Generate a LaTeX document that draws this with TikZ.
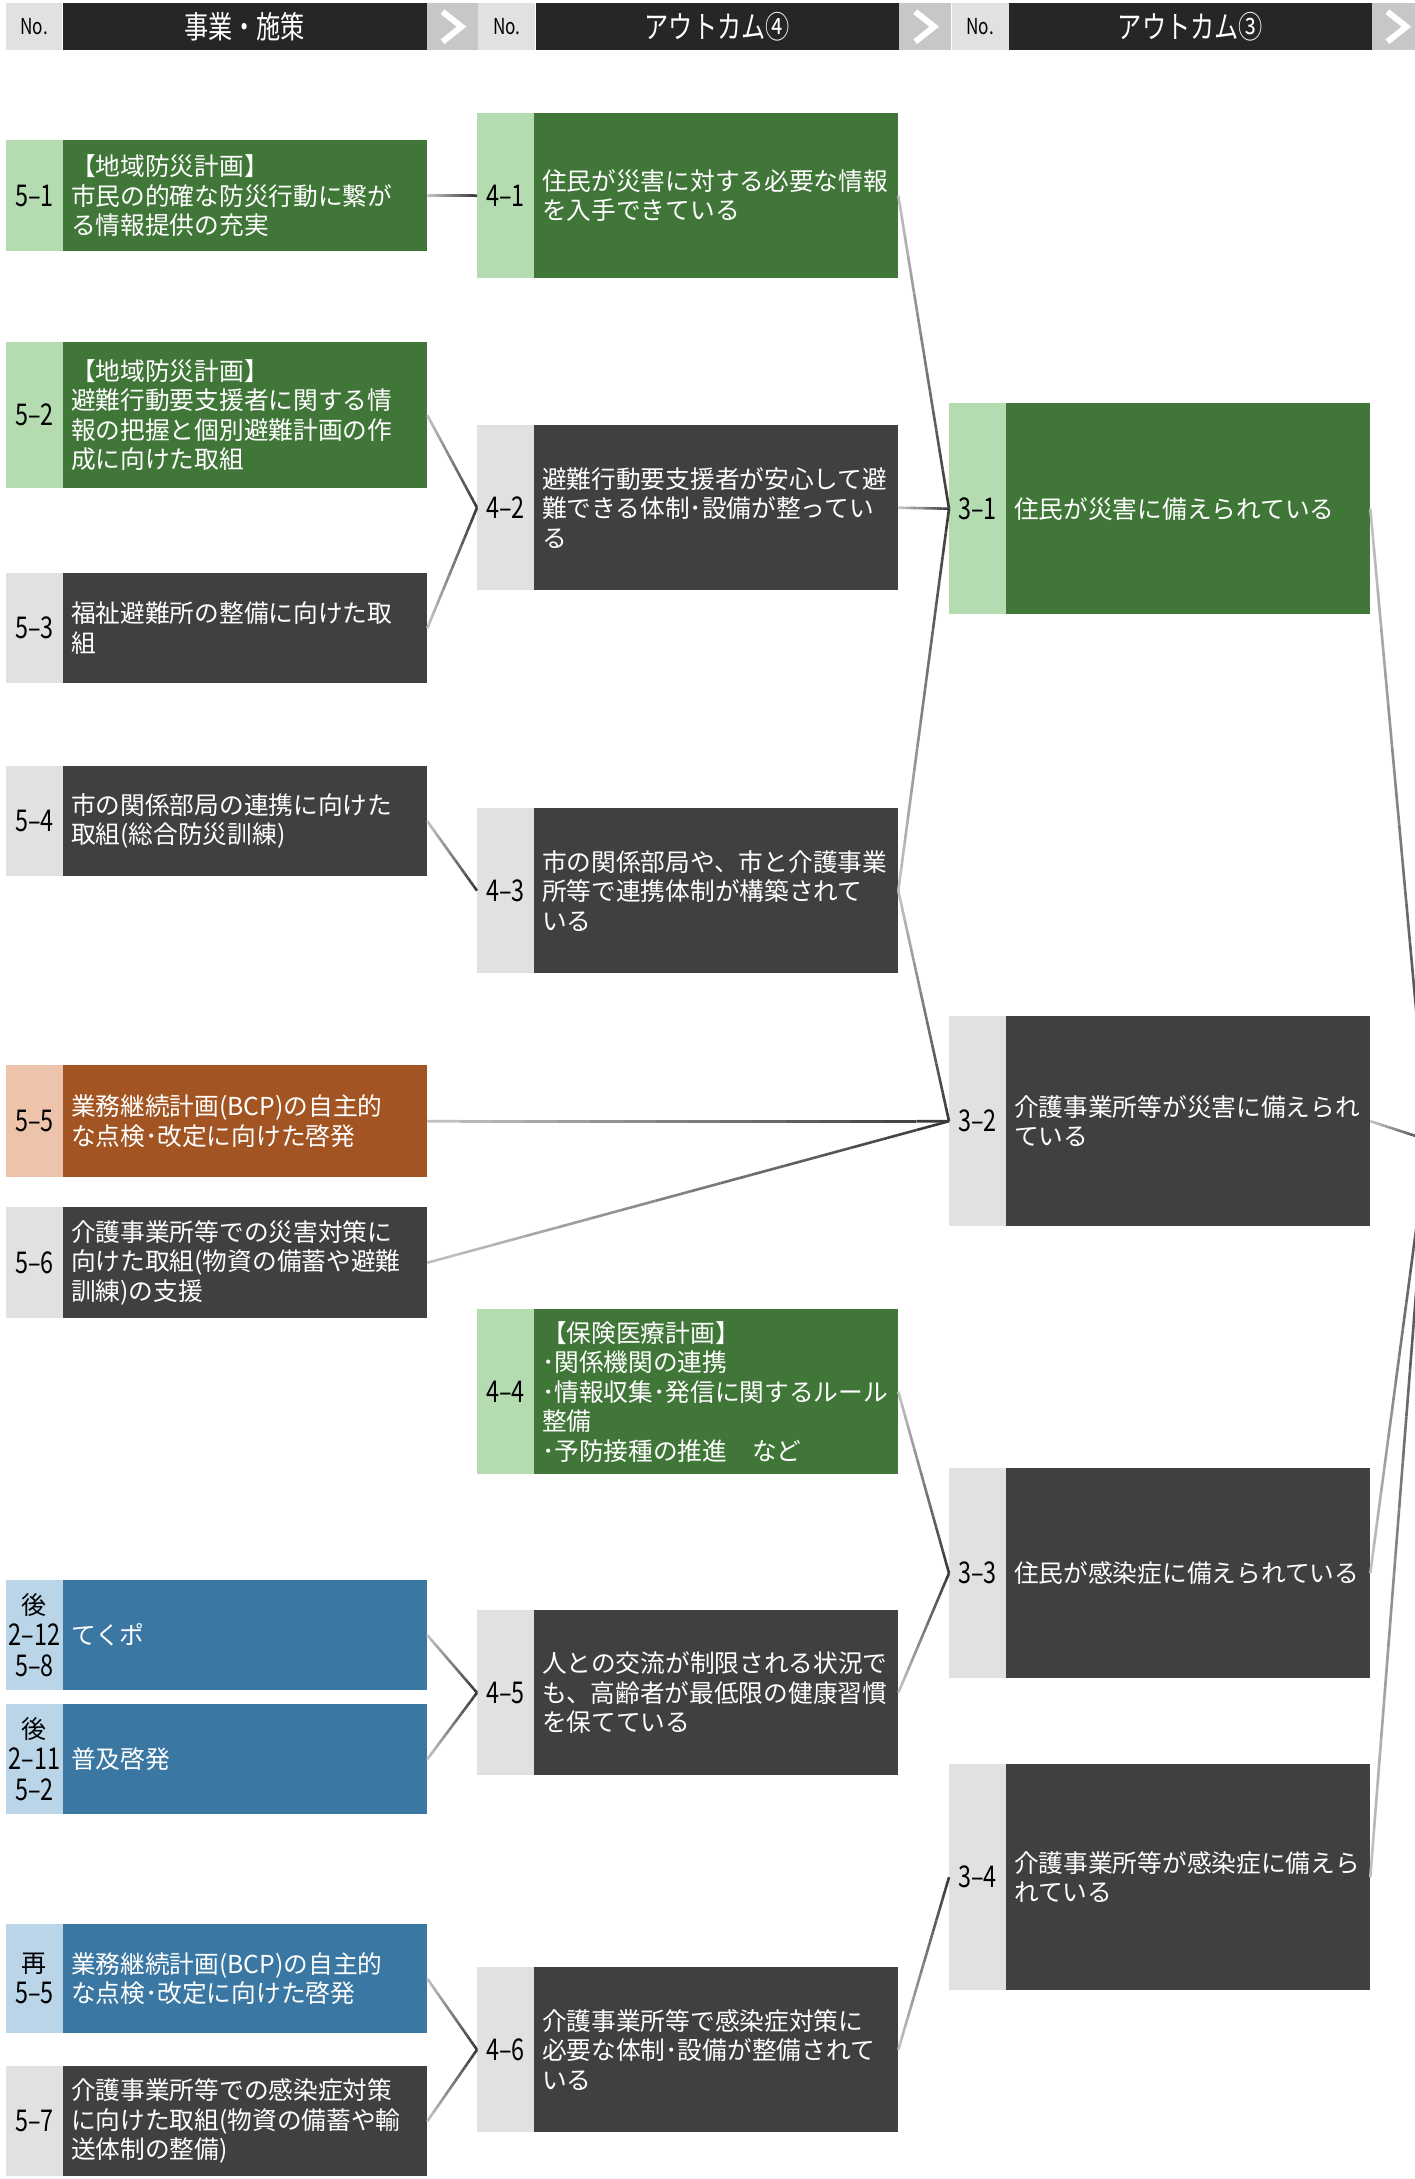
\documentclass[tikz,border=0pt]{standalone}
\usepackage{fontspec}
\setmainfont{Noto Sans CJK JP}
\newfontfamily\numfont[FakeStretch=0.78]{Noto Sans CJK JP}
\usetikzlibrary{calc}
\definecolor{dkgreen}{HTML}{417639}
\definecolor{ltgreen}{HTML}{B5DBB0}
\definecolor{dkgray}{HTML}{404040}
\definecolor{ltgray}{HTML}{E1E1E1}
\definecolor{brown}{HTML}{A25522}
\definecolor{peach}{HTML}{EDC4AB}
\definecolor{blue}{HTML}{3A77A2}
\definecolor{ltblue}{HTML}{BBD5E8}
\definecolor{hdrdark}{HTML}{262626}
\definecolor{chevbg}{HTML}{C7C7C7}
\newcommand\gconn[2]{%
  \foreach \k in {0,...,15}{%
    \pgfmathsetmacro\ga{\k/16}%
    \pgfmathsetmacro\gb{(\k+1)/16}%
    \pgfmathtruncatemacro\gc{25+52*\k/15}%
    \draw[conn, draw=black!\gc] ($(#1)!\ga!(#2)$) -- ($(#1)!\gb!(#2)$);
  }%
}
% name, x, y, height, numcolor, textcolor, numtext, text
\newcommand\boxpair[8]{%
  \node[numcell, fill=#5, minimum height=#4] (n#1) at (#2,#3) {#7};
  \node[txtcell, fill=#6, minimum height=#4] (t#1) at (n#1.north east) {#8};
}
\begin{document}
\begin{tikzpicture}[x=1pt,y=-1pt,
  numcell/.style={inner sep=0pt, minimum width=56.5pt, anchor=north west, align=center, text=black,
    font=\numfont\fontsize{30}{31}\selectfont},
  txtcell/.style={inner xsep=8pt, inner ysep=0pt, text width=348pt, anchor=north west, align=left,
    text=white, font=\fontsize{24.7}{29.5}\selectfont},
  hno/.style={fill=ltgray, inner sep=0pt, minimum height=47pt, anchor=north west, text=black,
    font=\numfont\fontsize{22}{22}\selectfont},
  hbar/.style={fill=hdrdark, inner sep=0pt, minimum height=47pt, anchor=north west, text=white,
    font=\numfont\fontsize{31}{31}\selectfont},
  hchev/.style={fill=chevbg, inner sep=0pt, minimum height=47pt, anchor=north west},
  chev/.style={draw=white, line width=6pt, miter limit=10},
  conn/.style={line width=2.6pt}
]
\useasboundingbox (0,0) rectangle (1415,2179);
\clip (0,0) rectangle (1415,2179);
\fill[white] (0,0) rectangle (1415,2179);

% header
\node[hno, minimum width=56pt] (hn1) at (6,3) {No.};
\node[hbar, minimum width=364pt] (hb1) at (hn1.north east) {事業・施策};
\node[hchev, minimum width=51pt] (hc1) at (hb1.north east) {};
\node[hno, minimum width=57pt] (hn2) at (hc1.north east) {No.};
\node[hbar, minimum width=363pt] (hb2) at (hn2.north east) {アウトカム④};
\node[hchev, minimum width=52pt] (hc2) at (hb2.north east) {};
\node[hno, minimum width=57pt] (hn3) at (hc2.north east) {No.};
\node[hbar, minimum width=363pt] (hb3) at (hn3.north east) {アウトカム③};
\node[hchev, minimum width=50pt] (hc3) at (hb3.north east) {};
\foreach \c in {hc1,hc2,hc3}{
  \draw[chev] ([xshift=-10pt,yshift=15pt]\c.center) -- ([xshift=9pt]\c.center) -- ([xshift=-10pt,yshift=-15pt]\c.center);
}

% column 1
\boxpair{51}{6}{140}{111pt}{ltgreen}{dkgreen}{5–1}{【地域防災計画】\\市民の的確な防災行動に繋が\\る情報提供の充実}
\boxpair{52}{6}{342}{146pt}{ltgreen}{dkgreen}{5–2}{【地域防災計画】\\避難行動要支援者に関する情\\報の把握と個別避難計画の作\\成に向けた取組}
\boxpair{53}{6}{573}{110pt}{ltgray}{dkgray}{5–3}{福祉避難所の整備に向けた取\\組}
\boxpair{54}{6}{766}{110pt}{ltgray}{dkgray}{5–4}{市の関係部局の連携に向けた\\取組(総合防災訓練)}
\boxpair{55}{6}{1065}{112pt}{peach}{brown}{5–5}{業務継続計画(BCP)の自主的\\な点検･改定に向けた啓発}
\boxpair{56}{6}{1207}{111pt}{ltgray}{dkgray}{5–6}{介護事業所等での災害対策に\\向けた取組(物資の備蓄や避難\\訓練)の支援}
\boxpair{58}{6}{1580}{110pt}{ltblue}{blue}{{\rmfamily\fontsize{25}{31}\selectfont 後}\\2–12\\5–8}{てくポ}
\boxpair{52b}{6}{1704}{110pt}{ltblue}{blue}{{\rmfamily\fontsize{25}{31}\selectfont 後}\\2–11\\5–2}{普及啓発}
\boxpair{55b}{6}{1924}{109pt}{ltblue}{blue}{{\rmfamily\fontsize{25}{31}\selectfont 再}\\5–5}{業務継続計画(BCP)の自主的\\な点検･改定に向けた啓発}
\boxpair{57}{6}{2066}{110pt}{ltgray}{dkgray}{5–7}{介護事業所等での感染症対策\\に向けた取組(物資の備蓄や輸\\送体制の整備)}

% column 2
\boxpair{41}{477}{113}{165pt}{ltgreen}{dkgreen}{4–1}{住民が災害に対する必要な情報\\を入手できている}
\boxpair{42}{477}{425}{165pt}{ltgray}{dkgray}{4–2}{避難行動要支援者が安心して避\\難できる体制･設備が整ってい\\る}
\boxpair{43}{477}{808}{165pt}{ltgray}{dkgray}{4–3}{市の関係部局や、市と介護事業\\所等で連携体制が構築されて\\いる}
\boxpair{44}{477}{1309}{165pt}{ltgreen}{dkgreen}{4–4}{【保険医療計画】\\･関係機関の連携\\･情報収集･発信に関するルール\\整備\\･予防接種の推進　など}
\boxpair{45}{477}{1610}{165pt}{ltgray}{dkgray}{4–5}{人との交流が制限される状況で\\も、高齢者が最低限の健康習慣\\を保てている}
\boxpair{46}{477}{1967}{165pt}{ltgray}{dkgray}{4–6}{介護事業所等で感染症対策に\\必要な体制･設備が整備されて\\いる}

% column 3
\boxpair{31}{949}{403}{211pt}{ltgreen}{dkgreen}{3–1}{住民が災害に備えられている}
\boxpair{32}{949}{1016}{210pt}{ltgray}{dkgray}{3–2}{介護事業所等が災害に備えられ\\ている}
\boxpair{33}{949}{1468}{210pt}{ltgray}{dkgray}{3–3}{住民が感染症に備えられている}
\boxpair{34}{949}{1764}{226pt}{ltgray}{dkgray}{3–4}{介護事業所等が感染症に備えら\\れている}

\coordinate (out) at (1428,1140);

% connectors
\gconn{t51.east}{n41.west}
\gconn{t52.east}{n42.west}
\gconn{t53.east}{n42.west}
\gconn{t54.east}{n43.west}
\gconn{t55.east}{n32.west}
\gconn{t56.east}{n32.west}
\gconn{t58.east}{n45.west}
\gconn{t52b.east}{n45.west}
\gconn{t55b.east}{n46.west}
\gconn{t57.east}{n46.west}
\gconn{t41.east}{n31.west}
\gconn{t42.east}{n31.west}
\gconn{t43.east}{n31.west}
\gconn{t43.east}{n32.west}
\gconn{t44.east}{n33.west}
\gconn{t45.east}{n33.west}
\gconn{t46.east}{n34.west}
\gconn{t31.east}{out}
\gconn{t32.east}{out}
\gconn{t33.east}{out}
\gconn{t34.east}{out}
\end{tikzpicture}
\end{document}
